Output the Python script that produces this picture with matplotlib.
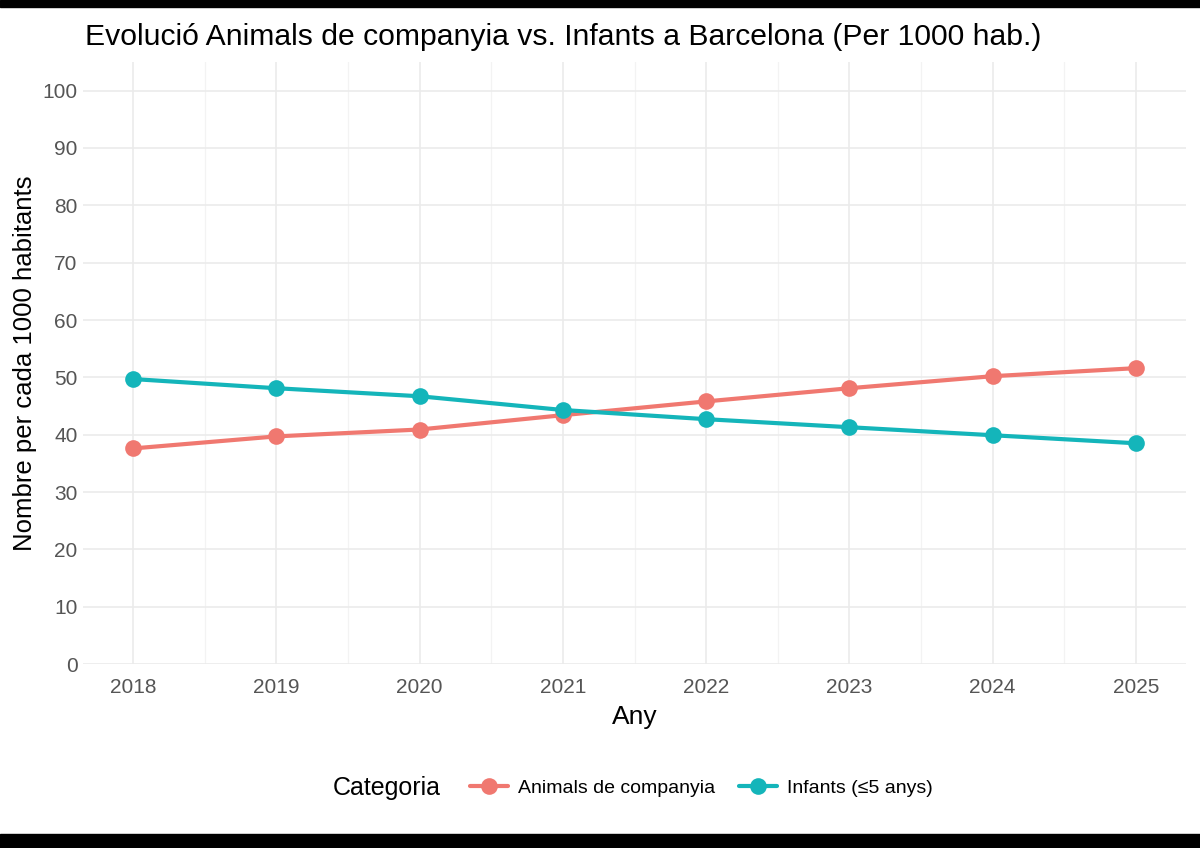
import matplotlib
matplotlib.use("Agg")
import matplotlib.pyplot as plt
from matplotlib.patches import Rectangle

years = [2018, 2019, 2020, 2021, 2022, 2023, 2024, 2025]
animals = [37.6, 39.7, 40.9, 43.4, 45.8, 48.1, 50.2, 51.6]
infants = [49.7, 48.1, 46.7, 44.3, 42.7, 41.3, 39.9, 38.5]
series_names = ["Animals de companyia", "Infants (≤5 anys)"]
colors = ["#F07870", "#14B5BA"]
yticks = list(range(0, 101, 10))

plt.rcParams['font.family'] = ['Liberation Sans', 'DejaVu Sans']

fig = plt.figure(figsize=(12, 8.48), dpi=100)
fig.patch.set_facecolor("white")
# black bars top and bottom
fig.add_artist(Rectangle((0, 1 - 7/848), 1, 7/848, transform=fig.transFigure, color="black", zorder=10))
fig.add_artist(Rectangle((0, 0), 1, 14/848, transform=fig.transFigure, color="black", zorder=10))

ax = fig.add_axes([83/1200, 1 - 664/848, (1186-83)/1200, (664-62)/848])
for s in ax.spines.values():
    s.set_visible(False)

for vals, name, c in zip([animals, infants], series_names, colors):
    ax.plot(years, vals, color=c, lw=3, marker="o", markersize=12,
            markeredgewidth=0, label=name, zorder=3, solid_capstyle="round")

ax.set_xlim(2017.65, 2025.35)
ax.set_ylim(0, 105)
ax.set_xticks(years)
ax.set_xticklabels([str(y) for y in years])
ax.set_yticks(yticks)
ax.set_xticks([y + 0.5 for y in years[:-1]], minor=True)
ax.grid(True, which="major", color="#EBEBEB", lw=1.2)
ax.grid(True, which="minor", axis="x", color="#F3F3F3", lw=0.9)
ax.tick_params(axis="both", which="both", length=0, labelsize=15, labelcolor="#555555")
ax.tick_params(axis="x", pad=10)
ax.tick_params(axis="y", pad=4)
ax.set_axisbelow(True)

ax.set_xlabel("Any", fontsize=19, color="black", labelpad=6)
ax.set_ylabel("Nombre per cada 1000 habitants", fontsize=18.5, color="black")
ax.yaxis.set_label_coords((37 - 83) / 1103, 0.5)

fig.text(85/1200, 1 - 37/848, "Evolució Animals de companyia vs. Infants a Barcelona (Per 1000 hab.)",
         fontsize=21.7, ha="left", va="center", color="black")

fig.text(333/1200, 1 - 788/848, "Categoria", fontsize=18, ha="left", va="center", color="black")
handles, labels = ax.get_legend_handles_labels()
fig.legend(handles, labels, loc="center left", bbox_to_anchor=(452/1200, 1 - 788/848),
           ncol=2, frameon=False, fontsize=14, handlelength=2.0, columnspacing=1.2,
           handletextpad=0.5)

fig.savefig("out.png", dpi=100)
